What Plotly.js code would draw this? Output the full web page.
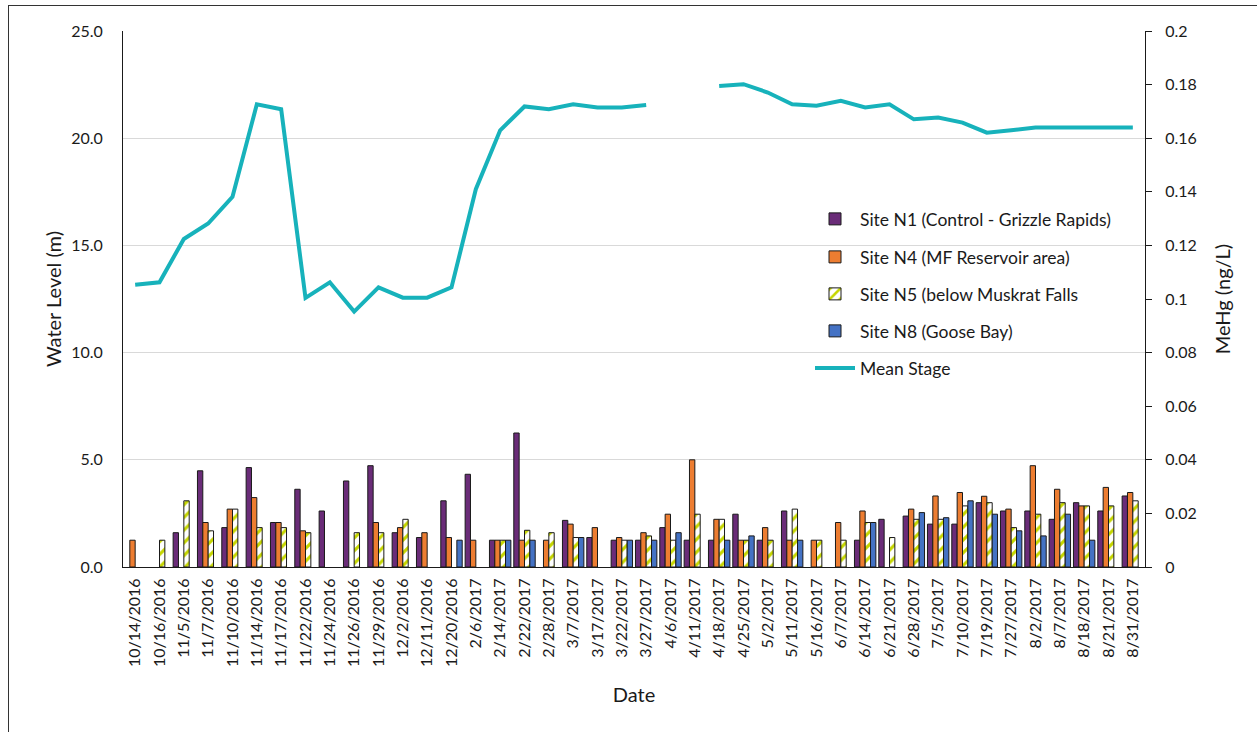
<!DOCTYPE html>
<html>
<head>
<meta charset="utf-8">
<script src="https://cdn.plot.ly/plotly-3.0.1.min.js"></script>
<style>
  html, body { margin: 0; padding: 0; background: #fff; }
  #chart { width: 1257px; height: 732px; }
  #frame { position: absolute; left: 8px; top: 5px; width: 1260px; height: 740px;
           border-left: 1px solid #333; border-top: 1px solid #333; pointer-events: none; }
</style>
</head>
<body>
<div id="chart"></div>
<div id="frame"></div>
<script>
const dates = ["10/14/2016","10/16/2016","11/5/2016","11/7/2016","11/10/2016","11/14/2016","11/17/2016",
  "11/22/2016","11/24/2016","11/26/2016","11/29/2016","12/2/2016","12/11/2016","12/20/2016","2/6/2017",
  "2/14/2017","2/22/2017","2/28/2017","3/7/2017","3/17/2017","3/22/2017","3/27/2017","4/6/2017",
  "4/11/2017","4/18/2017","4/25/2017","5/2/2017","5/11/2017","5/16/2017","6/7/2017","6/14/2017",
  "6/21/2017","6/28/2017","7/5/2017","7/10/2017","7/19/2017","7/27/2017","8/2/2017","8/7/2017",
  "8/18/2017","8/21/2017","8/31/2017"];

// Mean stage, water level (m)
const meanStage = [13.17,13.28,15.30,16.02,17.27,21.58,21.35,12.55,13.28,11.91,13.04,12.56,12.56,13.04,
  17.62,20.37,21.48,21.35,21.58,21.43,21.43,21.55,null,null,22.44,22.52,22.13,21.58,21.51,21.74,21.43,
  21.58,20.88,20.96,20.73,20.26,20.37,20.50,20.50,20.50,20.50,20.50];

// MeHg (ng/L)
const siteN1 = [null,null,0.0128,0.0359,0.0147,0.0371,0.0166,0.029,0.0209,0.0321,0.0378,0.0128,0.011,
  0.0247,0.0346,0.01,0.05,null,0.0174,0.011,0.01,0.01,0.0147,0.01,0.01,0.0197,0.01,0.0209,null,null,
  0.01,0.0178,0.019,0.016,0.016,0.024,0.0209,0.0209,0.0178,0.024,0.0209,0.0265];
const siteN4 = [0.01,null,null,0.0166,0.0216,0.0259,0.0166,0.0135,null,null,0.0166,0.0147,0.0128,0.011,
  0.01,0.01,0.01,0.01,0.016,0.0147,0.011,0.0128,0.0197,0.04,0.0178,0.01,0.0147,0.01,0.01,0.0166,
  0.0209,null,0.0216,0.0265,0.0278,0.0264,0.0216,0.0378,0.029,0.0228,0.0297,0.0278];
const siteN5 = [null,0.01,0.0247,0.0135,0.0216,0.0147,0.0147,0.0128,null,0.0128,0.0128,0.0178,null,null,
  null,0.01,0.0137,0.0128,0.011,null,0.01,0.0116,0.01,0.0197,0.0178,0.01,0.01,0.0216,0.01,0.01,
  0.0166,0.011,0.0178,0.0178,0.0228,0.024,0.0147,0.0197,0.024,0.0228,0.0228,0.0247];
const siteN8 = [null,null,null,null,null,null,null,null,null,null,null,null,null,0.01,null,0.01,0.01,null,
  0.011,null,0.01,0.01,0.0128,null,0.01,0.0116,null,0.01,null,null,0.0166,null,0.0203,0.0184,0.0247,
  0.0197,0.0135,0.0116,0.0197,0.01,null,null];

const leftTicks = [0,5,10,15,20,25];
const rightTickVals = [0,0.02,0.04,0.06,0.08,0.1,0.12,0.14,0.16,0.18,0.2];
const rightTickText = ["0","0.02","0.04","0.06","0.08","0.1","0.12","0.14","0.16","0.18","0.2"];

const FONT = "Lato, 'Liberation Sans', sans-serif";
const TXT = "#1a1a1a";
const outline = {color: "#1a1a1a", width: 1};

const traces = [
  {type: "bar", name: "Site N1 (Control - Grizzle Rapids)", x: dates, y: siteN1, yaxis: "y2",
   marker: {color: "#6a2c78", line: outline}, legend: "legend"},
  {type: "bar", name: "Site N4 (MF Reservoir area)", x: dates, y: siteN4, yaxis: "y2",
   marker: {color: "#ed7d31", line: outline}, legend: "legend2"},
  {type: "bar", name: "Site N5 (below Muskrat Falls", x: dates, y: siteN5, yaxis: "y2",
   marker: {color: "#ffffff", line: outline,
            pattern: {shape: "/", fgcolor: "#c5d600", bgcolor: "#ffffff", size: 9, solidity: 0.35}},
   legend: "legend3"},
  {type: "bar", name: "Site N8 (Goose Bay)", x: dates, y: siteN8, yaxis: "y2",
   marker: {color: "#4472c4", line: outline}, legend: "legend4"},
  {type: "scatter", mode: "lines", name: "Mean Stage", x: dates, y: meanStage, yaxis: "y",
   line: {color: "#17b2bb", width: 4}, connectgaps: false, legend: "legend5"}
];

const L = 123, R = 1145, T = 31, B = 567;
function lx(px) { return (px - L) / (R - L); }
function ly(py) { return (B - py) / (B - T); }
function leg(py) {
  return {x: lx(810), y: ly(py), xanchor: "left", yanchor: "middle", bgcolor: "rgba(0,0,0,0)",
          font: {family: FONT, size: 17.5, color: TXT}, itemwidth: 40};
}

const layout = {
  width: 1257, height: 732,
  margin: {l: L, r: 1257 - R, t: T, b: 732 - B},
  paper_bgcolor: "#ffffff", plot_bgcolor: "#ffffff",
  font: {family: FONT, size: 16, color: TXT},
  barmode: "group", bargap: 0.12, bargroupgap: 0,
  showlegend: true,
  legend: leg(219), legend2: leg(257), legend3: leg(294), legend4: leg(331), legend5: leg(368),
  xaxis: {type: "category", showline: true, linecolor: "#1a1a1a", linewidth: 1, ticks: "",
          tickangle: -90, tickfont: {family: FONT, size: 16, color: TXT}, showgrid: false,
          automargin: false, ticklabelstandoff: 4,
          title: {text: "Date", font: {family: FONT, size: 20, color: TXT}, standoff: 21}},
  yaxis: {range: [0, 25], tickvals: leftTicks, tickformat: ".1f", showline: true, linecolor: "#1a1a1a",
          linewidth: 1, ticks: "", showgrid: true, gridcolor: "#d9d9d9", gridwidth: 1, zeroline: false,
          tickfont: {family: FONT, size: 16, color: TXT}, automargin: false, ticklabelstandoff: 16,
          title: {text: "Water Level (m)", font: {family: FONT, size: 20, color: TXT}, standoff: 4}},
  yaxis2: {range: [0, 0.2], overlaying: "y", side: "right", tickvals: rightTickVals, ticktext: rightTickText,
           showline: true, linecolor: "#1a1a1a", linewidth: 1, ticks: "outside", ticklen: 6,
           tickcolor: "#1a1a1a", showgrid: false, zeroline: false, automargin: false, ticklabelstandoff: 10,
           tickfont: {family: FONT, size: 16, color: TXT},
           title: {text: "MeHg (ng/L)", font: {family: FONT, size: 20, color: TXT}, standoff: 20}}
};

Plotly.newPlot("chart", traces, layout, {displayModeBar: false, staticPlot: true});
</script>
</body>
</html>
